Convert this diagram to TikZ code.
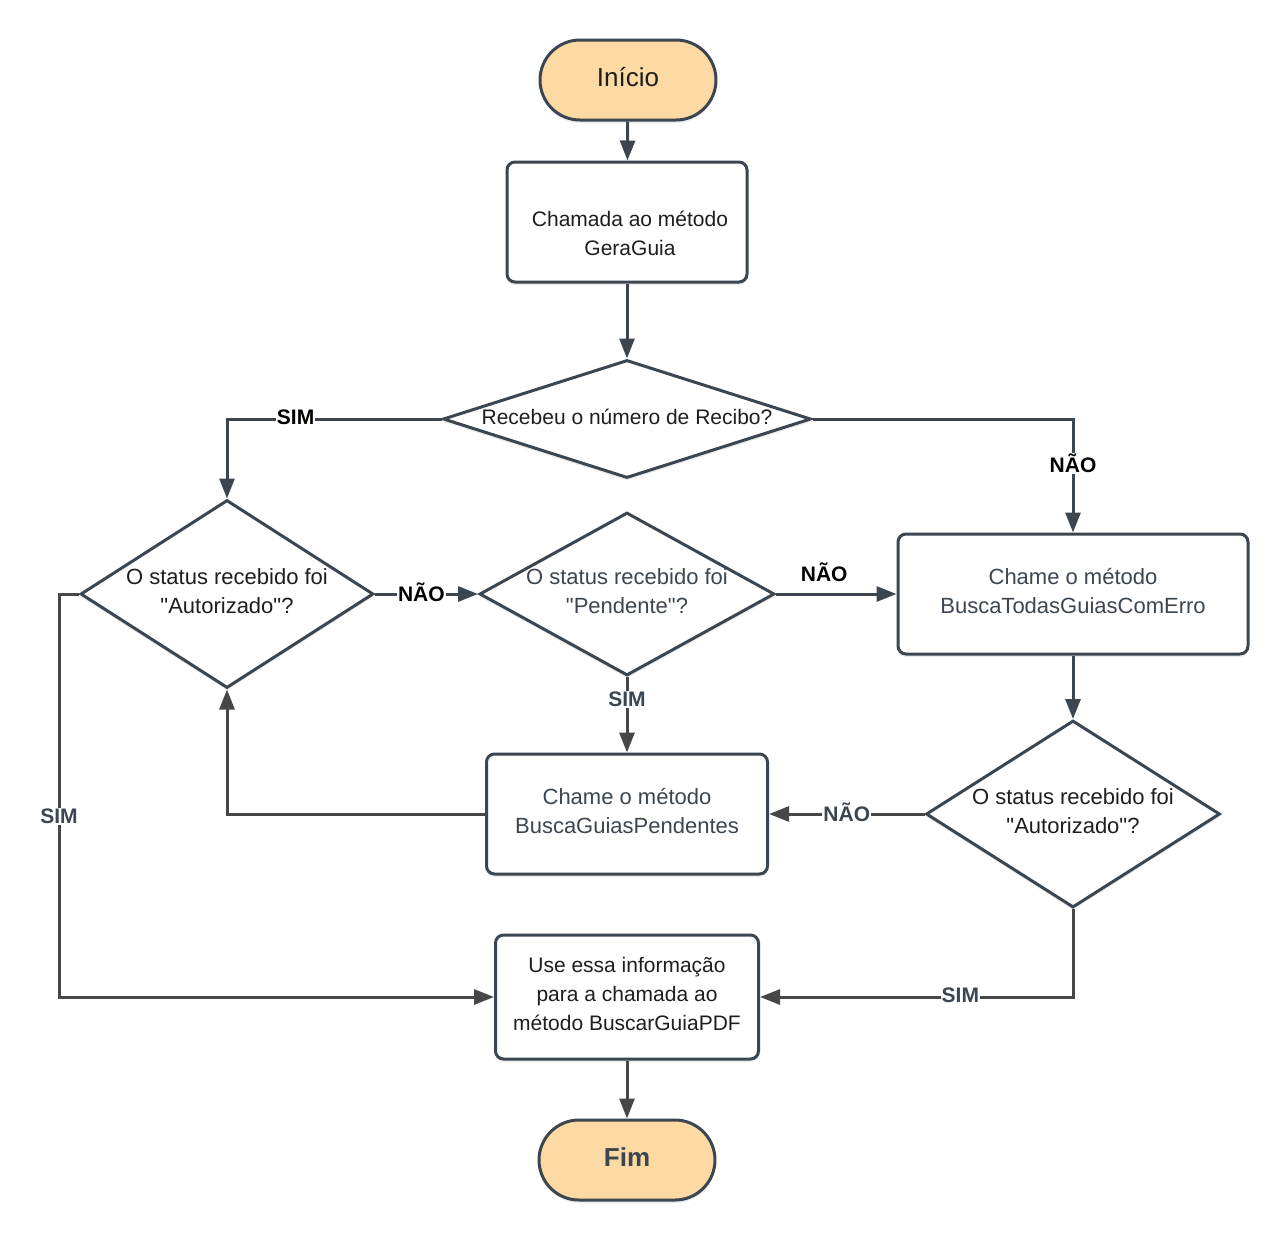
\documentclass[tikz,border=0pt]{standalone}
\usepackage{fontspec}
\setmainfont{Liberation Sans}
\usetikzlibrary{shapes.geometric,arrows.meta,shadows}
\definecolor{ln}{HTML}{3C4651}
\definecolor{gr}{HTML}{474747}
\definecolor{orng}{HTML}{FDD9A4}
\definecolor{tblk}{HTML}{1E1E1E}
\definecolor{tgr}{HTML}{3C4651}
\newcommand{\dq}{\textquotedbl}
\begin{document}
\begin{tikzpicture}[x=1pt,y=-1pt,
  shad/.style={drop shadow={shadow xshift=0pt,shadow yshift=-3pt,opacity=0.08,fill=black}},
  base/.style={draw=ln,line width=3pt,fill=white,shad},
  term/.style={base,fill=orng,rounded corners=40pt,minimum width=176pt,minimum height=80pt,inner sep=0pt},
  proc/.style={base,rounded corners=8pt,inner sep=0pt},
  dia/.style={base,diamond,inner sep=0pt},
  tx/.style={font=\fontsize{21}{29}\selectfont,align=center,text=tblk,inner sep=0pt},
  txb/.style={tx,font=\fontsize{22}{29}\selectfont},
  txg/.style={txb,text=tgr},
  conn/.style={line width=3pt,draw=ln,-{Triangle[length=20pt,width=15pt]}},
  conng/.style={conn,draw=gr},
  lbl/.style={fill=white,inner sep=1pt,yshift=2pt,font=\bfseries\fontsize{21}{24}\selectfont,text=black},
  lblg/.style={lbl,text=tgr},
]
\useasboundingbox (0,0) rectangle (1280,1240);

% nodes
\node[term] (ini) at (628,80) {};
\node[tx,font=\fontsize{26}{30}\selectfont] (init) at (628,77) {Início};

\node[proc,minimum width=240pt,minimum height=120pt] (b1) at (627,222) {};
\node[tx] (b1t) at (630,233) {Chamada ao método\\GeraGuia};

\node[dia,minimum width=368pt,minimum height=118pt] (d1) at (627,419) {};
\node[tx] (d1t) at (627,417) {Recebeu o número de Recibo?};

\node[dia,minimum width=293pt,minimum height=188pt] (d2) at (227,594) {};
\node[txb] (d2t) at (227,591) {O status recebido foi\\\dq Autorizado\dq?};

\node[dia,minimum width=295pt,minimum height=163pt] (d3) at (627,594) {};
\node[txg] (d3t) at (627,591) {O status recebido foi\\\dq Pendente\dq?};

\node[proc,minimum width=350pt,minimum height=120pt] (b2) at (1073,594) {};
\node[txg] (b2t) at (1073,591) {Chame o método\\BuscaTodasGuiasComErro};

\node[dia,minimum width=294pt,minimum height=187pt] (d4) at (1073,814) {};
\node[txb] (d4t) at (1073,811) {O status recebido foi\\\dq Autorizado\dq?};

\node[proc,minimum width=281pt,minimum height=120pt] (b3) at (627,814) {};
\node[txg] (b3t) at (627,811) {Chame o método\\BuscaGuiasPendentes};

\node[proc,minimum width=263pt,minimum height=124pt] (b4) at (627,997) {};
\node[tx] (b4t) at (627,994) {Use essa informação\\para a chamada ao\\método BuscarGuiaPDF};

\node[term] (fim) at (627,1160) {};
\node[tx,font=\bfseries\fontsize{26}{30}\selectfont,text=tgr] (fimt) at (627,1157) {Fim};

% connectors
\draw[conn] (ini) -- (b1);
\draw[conn] (b1) -- (d1);
\draw[conn] (d1.west) -| node[lbl,pos=0.34] {SIM} (d2.north);
\draw[conn] (d1.east) -| node[lbl,pos=0.705] {NÃO} (b2.north);
\draw[conn] (d2.east) -- node[lbl,pos=0.45] {NÃO} (d3.west);
\draw[conn] (d3.east) -- node[lbl,above=8pt,pos=0.4] {NÃO} (b2.west);
\draw[conng] (d3.south) -- node[lblg,pos=0.32] {SIM} (b3.north);
\draw[conn] (b2.south) -- (d4.north);
\draw[conng] (d4.west) -- node[lblg,pos=0.5] {NÃO} (b3.east);
\draw[conng] (b3.west) -| (d2.south);
\draw[conng] (d2.west) -- ++(-20,0) |- node[lblg,pos=0.278] {SIM} (b4.west);
\draw[conng] (d4.south) |- node[lblg,pos=0.68] {SIM} (b4.east);
\draw[conng] (b4) -- (fim);
\end{tikzpicture}
\end{document}
